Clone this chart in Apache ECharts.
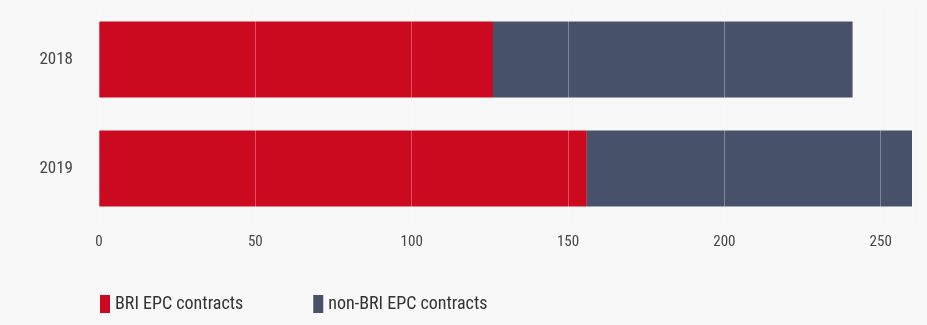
<!DOCTYPE html>
<html>
<head>
<meta charset="utf-8">
<script src="https://cdn.jsdelivr.net/npm/echarts@6/dist/echarts.min.js"></script>
<style>
html,body{margin:0;padding:0;background:#f8f8f8;}
#chart{width:927px;height:325px;}
</style>
</head>
<body>
<div id="chart"></div>
<script>
var categories = ['2018', '2019'];
var briValues = [126, 156];
var nonBriValues = [115, 104];
var seriesNames = ['BRI EPC contracts', 'non-BRI EPC contracts'];
var xTicks = [0, 50, 100, 150, 200, 250];

var font = "'Roboto Condensed', 'Roboto', sans-serif";
var chart = echarts.init(document.getElementById('chart'));
chart.setOption({
  backgroundColor: '#f8f8f8',
  animation: false,
  grid: {left: 99, right: 15, top: 5, bottom: 102},
  legend: {
    left: 95, top: 290,
    itemWidth: 10, itemHeight: 18, itemGap: 70, itemTextGap: 6,
    icon: 'rect',
    textStyle: {color: '#333', fontSize: 18, fontFamily: font},
    data: seriesNames
  },
  xAxis: {
    type: 'value', min: 0, max: 260, interval: 50, z: 5,
    axisLine: {show: false}, axisTick: {show: false},
    splitLine: {show: true, lineStyle: {color: 'rgba(255,255,255,0.3)', width: 1}},
    axisLabel: {
      color: '#444', fontSize: 15, fontFamily: font, margin: 12,
      formatter: function (v) { return xTicks.indexOf(v) >= 0 ? String(v) : ''; }
    }
  },
  yAxis: {
    type: 'category', data: categories, inverse: true,
    axisLine: {show: false}, axisTick: {show: false},
    axisLabel: {color: '#444', fontSize: 17, fontFamily: font, margin: 26}
  },
  series: [
    {name: seriesNames[0], type: 'bar', stack: 't', data: briValues, barWidth: 76,
     itemStyle: {color: '#cc0a1f'}},
    {name: seriesNames[1], type: 'bar', stack: 't', data: nonBriValues, barWidth: 76,
     itemStyle: {color: '#47526a'}}
  ]
});
</script>
</body>
</html>
